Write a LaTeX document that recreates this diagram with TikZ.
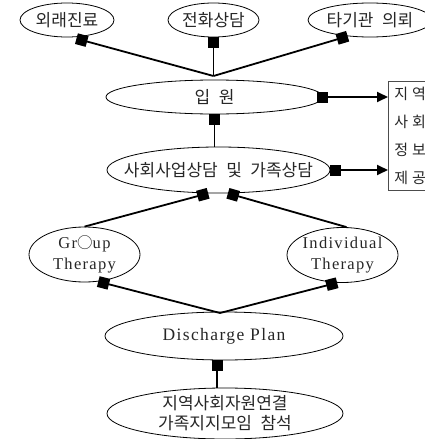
\documentclass[tikz,border=0pt]{standalone}
\usepackage{fontspec}
\setmainfont{Noto Sans CJK KR}
\newfontfamily\cjk{Noto Sans CJK KR}
\newfontfamily\lat{Liberation Serif}[LetterSpace=8]
\usetikzlibrary{arrows.meta,shapes.geometric}
\newcommand{\ksp}{\hspace{0.5em}}
\newcommand{\ring}{{\cjk\fontsize{15.5}{15.5}\selectfont ○}}

\begin{document}
\begin{tikzpicture}[x=1pt,y=-1pt,
  oval/.style={ellipse, draw=black, line width=0.8pt, inner sep=0pt},
  ko/.style={font=\fontsize{17}{20}\selectfont, text=black!85, align=center, inner sep=0pt},
  en/.style={font=\lat\fontsize{16.5}{21}\selectfont, text=black!85, align=center, inner sep=0pt},
  link/.style={line width=1.8pt, {Square[length=11pt,width=11pt]}-},
  feed/.style={line width=1.8pt, {Square[length=11pt,width=11pt]}-{Triangle[length=11pt,width=10pt]}},
  infobox/.style={draw=black!70, line width=0.8pt, anchor=north west, align=left,
    text width=46pt, minimum height=109pt, inner xsep=6pt,
    font=\fontsize{15}{28}\selectfont, text=black!85}
]
\useasboundingbox (0,0) rectangle (425,439);
\clip (0,0) rectangle (425,439);

% referral sources
\node[oval, minimum width=94, minimum height=34, label={[ko]center:외래진료}] (wr) at (67,20) {};
\node[oval, minimum width=91, minimum height=34, label={[ko]center:전화상담}] (ph) at (213.5,20) {};
\node[oval, minimum width=124, minimum height=34, label={[ko]center:타기관\ksp 의뢰}] (ta) at (370,20) {};

% admission and counselling
\node[oval, minimum width=217, minimum height=34, label={[ko]center:입\ksp 원}] (ip) at (214.5,97) {};
\node[oval, minimum width=223, minimum height=46,
  label={[ko]center:사회사업상담\ksp 및\ksp 가족상담}] (sw) at (218.5,170) {};

% information box
\node[infobox] (box) at (388,81) {지\hspace{4pt}역\\사\hspace{4pt}회\\정\hspace{4pt}보\\제\hspace{4pt}공};

% therapies
\node[oval, minimum width=111, minimum height=55, label={[en]center:Gr\ring up\\Therapy}] (gt) at (84.5,254.5) {};
\node[oval, minimum width=111, minimum height=55, label={[en]center:Individual\\Therapy}] (it) at (342.5,255) {};

% discharge
\node[oval, minimum width=238, minimum height=48,
  label={[en, font=\lat\fontsize{17.5}{21}\selectfont]center:Discharge Plan}] (dp) at (224,336) {};
\node[oval, minimum width=236, minimum height=51,
  label={[ko]center:지역사회자원연결\\가족지지모임\ksp 참석}] (bt) at (225,413.5) {};

% junction points
\coordinate (j1) at (213.5,76);
\coordinate (j2) at (220,313);

% connectors
\draw[link, shorten <=5pt] (wr.-75) -- (j1);
\draw[link] (ph.south) -- (j1);
\draw[link] (ta.-144) -- (j1);
\draw[feed, shorten <=-6pt] (ip.east) -- (ip.east -| box.west);
\draw[link] (ip.south) -- (ip.south |- sw.north);
\draw[feed] (sw.east) -- (sw.east -| box.west);
\draw[link] (sw.-114) -- (gt.north);
\draw[link] (sw.-68) -- ([xshift=4pt]it.north);
\draw[link] (gt.-63) -- (j2);
\draw[link] (it.-101) -- (j2);
\draw[link] ([xshift=-7pt]dp.south) -- ([xshift=-7pt]dp.south |- bt.north);
\end{tikzpicture}
\end{document}
